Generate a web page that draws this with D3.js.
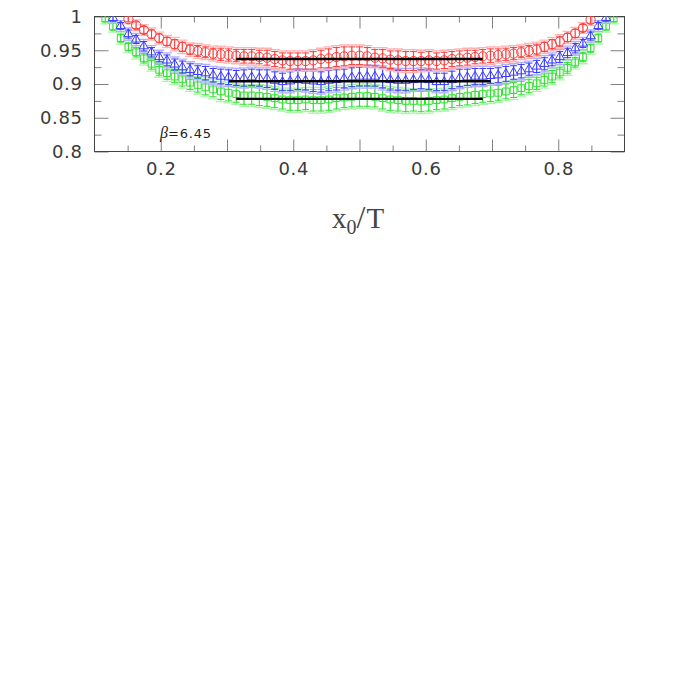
<!DOCTYPE html>
<html>
<head>
<meta charset="utf-8">
<script src="https://cdn.jsdelivr.net/npm/d3@7"></script>
<style>
  html, body { margin: 0; padding: 0; background: #fff; }
  svg { display: block; }
</style>
</head>
<body>
<svg id="chart" width="681" height="681"></svg>
<script>
// ---------------- data ----------------
const T = 86;                       // lattice extent: x0/T = t/T
const xTicksMajor = [0.2, 0.3, 0.4, 0.5, 0.6, 0.7, 0.8];
const xTickLabels = ["0.2", "", "0.4", "", "0.6", "", "0.8"];
const xTicksMinor = [0.15, 0.25, 0.35, 0.45, 0.55, 0.65, 0.75, 0.85];
const yTicksMajor = [0.8, 0.85, 0.9, 0.95, 1];
const yTickLabels = ["0.8", "0.85", "0.9", "0.95", "1"];
const yTicksMinor = [0.825, 0.875, 0.925, 0.975];

// red circles, t = 13 .. 73
const redStart = 13;
const redVals = [0.996,0.987,0.980,0.974,0.968,0.963,0.959,0.955,0.951,0.949,0.947,0.945,
  0.944,0.943,0.942,0.941,0.941,0.940,0.939,0.937,0.935,0.934,0.934,0.934,0.935,0.937,
  0.938,0.940,0.941,0.942,0.942,0.941,0.939,0.938,0.936,0.935,0.934,0.934,0.934,0.935,
  0.934,0.935,0.937,0.938,0.939,0.940,0.941,0.942,0.943,0.944,0.945,0.947,0.949,0.951,
  0.955,0.959,0.963,0.969,0.975,0.983,0.995];
const redErr = [0.004,0.005,0.005,0.006,0.006,
  0.006,0.007,0.007,0.007,0.008,0.008,0.008,
  0.009,0.009,0.009,0.010,0.010,0.010,0.011,0.011,
  0.011,0.012,0.012,0.012,0.013,0.013,0.014,0.014,0.014,0.013,0.013,
  0.013,0.012,0.013,0.013,0.014,0.014,0.014,0.013,0.013,0.012,0.012,
  0.011,0.011,0.011,0.010,0.010,0.010,0.009,0.009,0.009,
  0.008,0.008,0.008,0.007,0.007,0.007,0.006,0.006,0.005,0.005];

// blue triangles, t = 11 .. 75
const blueStart = 11;
const blueVals = [0.998,0.986,0.974,0.966,0.956,0.947,0.940,0.935,0.929,0.925,0.921,0.918,
  0.916,0.913,0.911,0.910,0.909,0.909,0.910,0.909,0.908,0.905,0.903,0.904,0.906,0.905,
  0.904,0.903,0.905,0.906,0.908,0.910,0.911,0.911,0.911,0.909,0.906,0.905,0.905,0.906,
  0.907,0.906,0.903,0.903,0.906,0.909,0.910,0.911,0.911,0.912,0.913,0.915,0.917,0.919,
  0.922,0.926,0.930,0.935,0.940,0.946,0.953,0.960,0.971,0.986,0.998];
const blueErr = [0.005,0.005,0.006,0.006,0.007,0.007,
  0.007,0.008,0.008,0.009,0.009,0.009,0.010,0.010,
  0.011,0.011,0.011,0.012,0.012,0.012,0.013,0.013,
  0.013,0.014,0.014,0.014,0.015,0.015,0.015,0.015,0.014,0.014,0.014,
  0.014,0.014,0.015,0.015,0.015,0.015,0.014,0.014,0.014,0.013,0.013,
  0.013,0.013,0.012,0.012,0.012,0.011,0.011,0.011,
  0.010,0.010,0.009,0.009,0.009,0.008,0.008,0.007,0.007,0.006,0.006,0.005,0.005];

// green squares, t = 10 .. 76
const greenStart = 10;
const greenVals = [0.997,0.985,0.968,0.955,0.947,0.938,0.930,0.921,0.916,0.911,0.907,0.902,
  0.898,0.895,0.892,0.889,0.887,0.885,0.883,0.883,0.882,0.881,0.879,0.877,0.876,0.876,
  0.877,0.876,0.876,0.877,0.879,0.880,0.881,0.882,0.882,0.881,0.879,0.877,0.876,0.875,
  0.875,0.874,0.875,0.876,0.877,0.879,0.881,0.882,0.884,0.885,0.886,0.887,0.889,0.891,
  0.894,0.897,0.901,0.906,0.911,0.917,0.924,0.932,0.940,0.953,0.968,0.985,0.997];
const greenErr = [0.005,0.005,0.006,0.006,0.007,0.007,0.008,
  0.008,0.009,0.009,0.010,0.010,0.010,0.011,0.011,
  0.012,0.012,0.012,0.013,0.013,0.014,0.014,0.014,
  0.014,0.015,0.015,0.015,0.016,0.016,0.016,0.016,0.015,0.015,0.015,
  0.015,0.015,0.016,0.016,0.016,0.016,0.015,0.015,0.015,0.014,0.014,
  0.014,0.013,0.013,0.013,0.012,0.012,0.011,0.011,
  0.011,0.010,0.010,0.009,0.009,0.009,0.008,0.008,0.007,0.007,0.006,0.006,0.005,0.005];

// additional (systematic) error shown as pale bars, per series
const sysErr = [0.003, 0.003, 0.003];

// plateau fits: [x from, x to, value]
const plateauX0 = [0.314, 0.303, 0.314];
const plateauX1 = [0.686, 0.698, 0.686];
const plateauVal = [0.937, 0.904, 0.878];

const betaLabel = "=6.45";

// ---------------- drawing ----------------
const L = 94.5, R = 624.5, TOP = 16.5, BOT = 151.5;
const svg = d3.select("#chart");
const x = d3.scaleLinear().domain([0.1, 0.9]).range([L, R]);
const y = d3.scaleLinear().domain([0.8, 1.0]).range([BOT, TOP]);

svg.append("defs").append("clipPath").attr("id", "clip")
  .append("rect").attr("x", L).attr("y", TOP).attr("width", R - L).attr("height", BOT - TOP);

const tickColor = "#808080";
const fontFam = "'DejaVu Sans', sans-serif";

function styleAxis(g) {
  g.select(".domain").remove();
  g.selectAll(".tick line").attr("stroke", tickColor).attr("stroke-width", 1);
  g.selectAll(".tick text").attr("fill", "#3a3a3a").attr("font-family", fontFam)
    .attr("font-size", 18).attr("letter-spacing", "0.6px");
}

// x axes
svg.append("g").attr("transform", `translate(0,${BOT})`)
  .call(d3.axisBottom(x).tickValues(xTicksMajor).tickSize(-12).tickPadding(11)
    .tickFormat((d, i) => xTickLabels[i])).call(styleAxis);
svg.append("g").attr("transform", `translate(0,${BOT})`)
  .call(d3.axisBottom(x).tickValues(xTicksMinor).tickSize(-6).tickFormat("")).call(styleAxis);
svg.append("g").attr("transform", `translate(0,${TOP})`)
  .call(d3.axisTop(x).tickValues(xTicksMajor).tickSize(-12).tickFormat("")).call(styleAxis);
svg.append("g").attr("transform", `translate(0,${TOP})`)
  .call(d3.axisTop(x).tickValues(xTicksMinor).tickSize(-6).tickFormat("")).call(styleAxis);

// y axes
svg.append("g").attr("transform", `translate(${L},0)`)
  .call(d3.axisLeft(y).tickValues(yTicksMajor).tickSize(-14).tickPadding(12)
    .tickFormat((d, i) => yTickLabels[i])).call(styleAxis);
svg.append("g").attr("transform", `translate(${L},0)`)
  .call(d3.axisLeft(y).tickValues(yTicksMinor).tickSize(-7).tickFormat("")).call(styleAxis);
svg.append("g").attr("transform", `translate(${R},0)`)
  .call(d3.axisRight(y).tickValues(yTicksMajor).tickSize(-14).tickFormat("")).call(styleAxis);
svg.append("g").attr("transform", `translate(${R},0)`)
  .call(d3.axisRight(y).tickValues(yTicksMinor).tickSize(-7).tickFormat("")).call(styleAxis);

// frame
svg.append("rect").attr("x", L).attr("y", TOP).attr("width", R - L).attr("height", BOT - TOP)
  .attr("fill", "none").attr("stroke", "#444").attr("stroke-width", 1);

const plot = svg.append("g").attr("clip-path", "url(#clip)");

const series = [
  { start: redStart, vals: redVals, err: redErr, dark: "#ff3b3b", pale: "#ffb4b4", shape: "circle" },
  { start: blueStart, vals: blueVals, err: blueErr, dark: "#3a3aff", pale: "#b0b0ff", shape: "triangle" },
  { start: greenStart, vals: greenVals, err: greenErr, dark: "#2ee02e", pale: "#a8f5a8", shape: "square" }
];

// draw order: green (back), blue, red
[2, 1, 0].forEach(si => {
  const s = series[si];
  const pts = s.vals.map((v, i) => ({ xv: (s.start + i) / T, v, e: s.err[i], se: sysErr[si] }));
  const g = plot.append("g");
  // pale (total) error bars
  const pg = g.append("g").attr("stroke", s.pale).attr("stroke-width", 1.3).attr("fill", "none");
  pts.forEach(p => {
    const cx = x(p.xv), top = y(p.v + p.e + p.se), bot = y(p.v - p.e - p.se);
    pg.append("line").attr("x1", cx).attr("x2", cx).attr("y1", top).attr("y2", bot);
    pg.append("line").attr("x1", cx - 5).attr("x2", cx + 5).attr("y1", top).attr("y2", top);
    pg.append("line").attr("x1", cx - 5).attr("x2", cx + 5).attr("y1", bot).attr("y2", bot);
  });
  // dark (statistical) error bars
  const dg = g.append("g").attr("stroke", s.dark).attr("stroke-width", 1).attr("fill", "none");
  pts.forEach(p => {
    const cx = x(p.xv), top = y(p.v + p.e), bot = y(p.v - p.e);
    dg.append("line").attr("x1", cx).attr("x2", cx).attr("y1", top).attr("y2", bot);
    dg.append("line").attr("x1", cx - 3.5).attr("x2", cx + 3.5).attr("y1", top).attr("y2", top);
    dg.append("line").attr("x1", cx - 3.5).attr("x2", cx + 3.5).attr("y1", bot).attr("y2", bot);
  });
  // markers
  const mg = g.append("g").attr("stroke", s.dark).attr("stroke-width", 1).attr("fill", "none");
  pts.forEach(p => {
    const cx = x(p.xv), cy = y(p.v);
    if (s.shape === "circle") {
      mg.append("circle").attr("cx", cx).attr("cy", cy).attr("r", 4.6);
    } else if (s.shape === "triangle") {
      mg.append("path").attr("d", d3.symbol(d3.symbolTriangle, 36)())
        .attr("transform", `translate(${cx},${cy})`);
    } else {
      mg.append("path").attr("d", d3.symbol(d3.symbolSquare, 46)())
        .attr("transform", `translate(${cx},${cy})`);
    }
  });
});

// plateau lines
plateauVal.forEach((v, i) => {
  plot.append("line")
    .attr("x1", x(plateauX0[i])).attr("x2", x(plateauX1[i]))
    .attr("y1", y(v)).attr("y2", y(v))
    .attr("stroke", "#000").attr("stroke-width", 2.4);
});

// beta label
const bt = svg.append("text").attr("x", 160).attr("y", 138).attr("fill", "#222");
bt.append("tspan").attr("font-family", "'Liberation Serif', serif").attr("font-style", "italic")
  .attr("font-size", 16).text("β");
bt.append("tspan").attr("font-family", fontFam).attr("font-size", 13).attr("letter-spacing", "0.8px")
  .text(betaLabel);

// x-axis title
const xt = svg.append("text").attr("x", 332).attr("y", 228).attr("fill", "#444")
  .attr("font-family", "'Liberation Serif', serif").attr("font-size", 29);
xt.append("tspan").text("x");
xt.append("tspan").attr("font-size", 20).attr("dy", 6).text("0");
xt.append("tspan").attr("dy", -6).attr("font-size", 32).text("/");
xt.append("tspan").attr("dx", 1).text("T");
</script>
</body>
</html>
